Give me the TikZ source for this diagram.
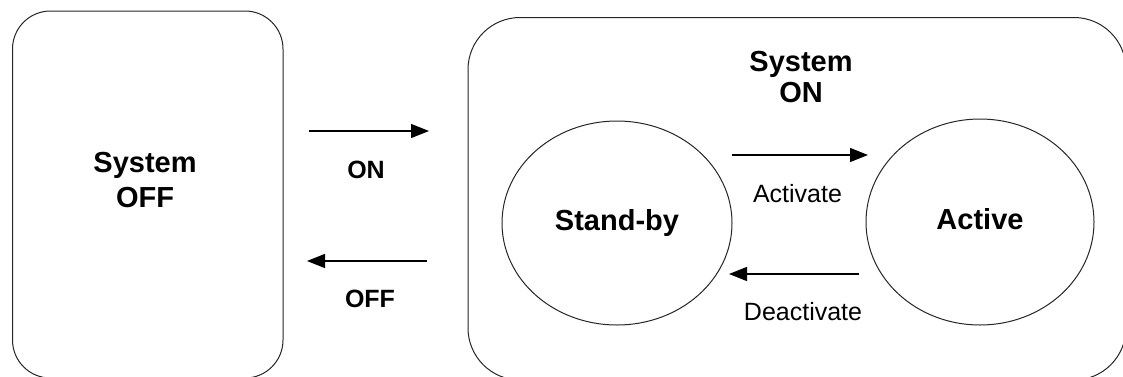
\documentclass[tikz,border=0pt]{standalone}
\usepackage{fontspec}
\setmainfont{Liberation Sans}
\usetikzlibrary{arrows.meta,shapes.geometric}
\tikzset{
  statebox/.style={draw=black!85, line width=1pt, rectangle, inner sep=0pt},
  stateell/.style={draw=black!85, line width=1pt, ellipse, inner sep=0pt,
    font=\bfseries\fontsize{29}{35}\selectfont, text height=21pt, text depth=6pt},
  biglabel/.style={font=\bfseries\fontsize{29}{35}\selectfont, align=center, inner sep=0pt},
  onlabel/.style={font=\bfseries\fontsize{25}{30}\selectfont, inner sep=0pt, anchor=base},
  smalllabel/.style={font=\fontsize{25}{30}\selectfont, inner sep=0pt, anchor=base},
  trans/.style={line width=1.3pt, -{Triangle[length=18pt,width=14pt]}}
}
\begin{document}
\begin{tikzpicture}[x=1pt,y=-1pt]
\clip (0,0) rectangle (1123,376);
\fill[white] (0,0) rectangle (1123,376);
% left box
\node[statebox, rounded corners=38pt, minimum width=270.5pt, minimum height=367pt] (offbox) at (147.75,194.5) {};
\node[biglabel] (offtext) at (145,180) {System\\OFF};
% right box
\node[statebox, rounded corners=52pt, minimum width=658pt, minimum height=362.5pt] (onbox) at (797,198.75) {};
\node[biglabel, font=\bfseries\fontsize{29}{31}\selectfont] (ontext) at (801,77.5) {System\\ON};
% states
\node[stateell, minimum width=230pt, minimum height=204pt] (standby) at (617,223) {Stand-by};
\node[stateell, minimum width=228pt, minimum height=206pt] (active) at (980,222) {Active};
% arrows
\coordinate (on1) at (309,131);
\coordinate (on2) at (429,131);
\coordinate (off1) at (427,261);
\coordinate (off2) at (307,261);
\coordinate (act1) at (732,155);
\coordinate (act2) at (868,155);
\coordinate (deact1) at (859,274);
\coordinate (deact2) at (729,274);
\draw[trans] (on1) -- (on2);
\draw[trans] (off1) -- (off2);
\draw[trans] (act1) -- (act2);
\draw[trans] (deact1) -- (deact2);
% labels
\node[onlabel] (onlbl) at (366,178) {ON};
\node[onlabel] (offlbl) at (370,307) {OFF};
\node[smalllabel] (actlbl) at (797.5,202) {Activate};
\node[smalllabel] (deactlbl) at (803,320) {Deactivate};
\end{tikzpicture}
\end{document}
